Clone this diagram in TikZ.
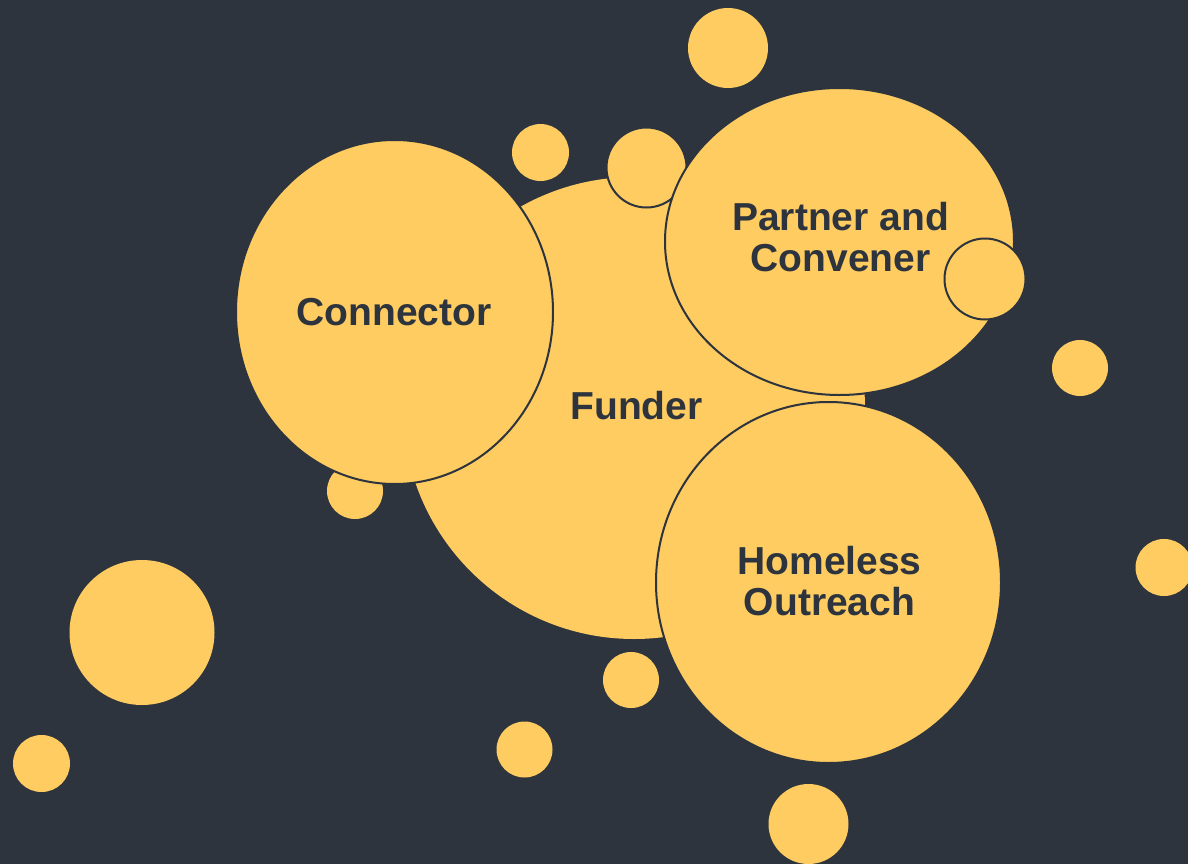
\documentclass[tikz,border=0pt]{standalone}
\usepackage{fontspec}
\setmainfont{Liberation Sans}
\usetikzlibrary{shapes.geometric}
\definecolor{slate}{HTML}{2D343E}
\definecolor{honey}{HTML}{FECC60}
\begin{document}
\begin{tikzpicture}[x=1pt,y=-1pt,
  bubble/.style={ellipse, fill=honey, inner sep=0pt, outer sep=0pt},
  ring/.style={bubble, draw=slate, line width=2pt},
  dot/.style={circle, fill=honey, inner sep=0pt, outer sep=0pt, minimum size=#1},
  ringdot/.style={dot=#1, draw=slate, line width=2pt},
  caption/.style={text=slate, font=\fontsize{39}{41}\selectfont\bfseries, align=center, inner sep=0pt}]
% backdrop
\fill[slate] (0,0) rectangle (1188,864);
\useasboundingbox (0,0) rectangle (1188,864);

% loose dots scattered around the cluster
\node[dot=80] (d1) at (728,48) {};
\node[dot=57] (d2) at (540.5,152.5) {};
\node[dot=56] (d3) at (1080,368) {};
\node[dot=57] (d4) at (1164,567.5) {};
\node[dot=145] (d5) at (142,632.5) {};
\node[dot=56] (d6) at (631,680) {};
\node[dot=57] (d7) at (41.5,763.5) {};
\node[dot=56] (d8) at (524.5,749.5) {};
\node[dot=80] (d9) at (808.5,824) {};
\node[dot=56] (d10) at (355,491) {};

% central bubble
\node[dot=462] (funder) at (634,408) {};

% left bubble
\node[ring, minimum width=317, minimum height=344] (connector) at (394.5,312) {};

% dot tucked between the central and upper bubbles
\node[ringdot=80] (d11) at (646.5,167.5) {};

% upper right bubble
\node[ring, minimum width=349, minimum height=307] (partner) at (839.5,241.5) {};
\node[ringdot=81] (d12) at (985,279) {};

% lower right bubble
\node[ring, minimum width=345, minimum height=361] (outreach) at (828.5,582.5) {};

% labels
\node[caption] (tconnector) at (394,312) {Connector};
\node[caption] (tfunder) at (636.5,406) {Funder};
\node[caption] (tpartner) at (840.5,237) {Partner and\\Convener};
\node[caption] (toutreach) at (829.5,581) {Homeless\\Outreach};
\end{tikzpicture}
\end{document}
